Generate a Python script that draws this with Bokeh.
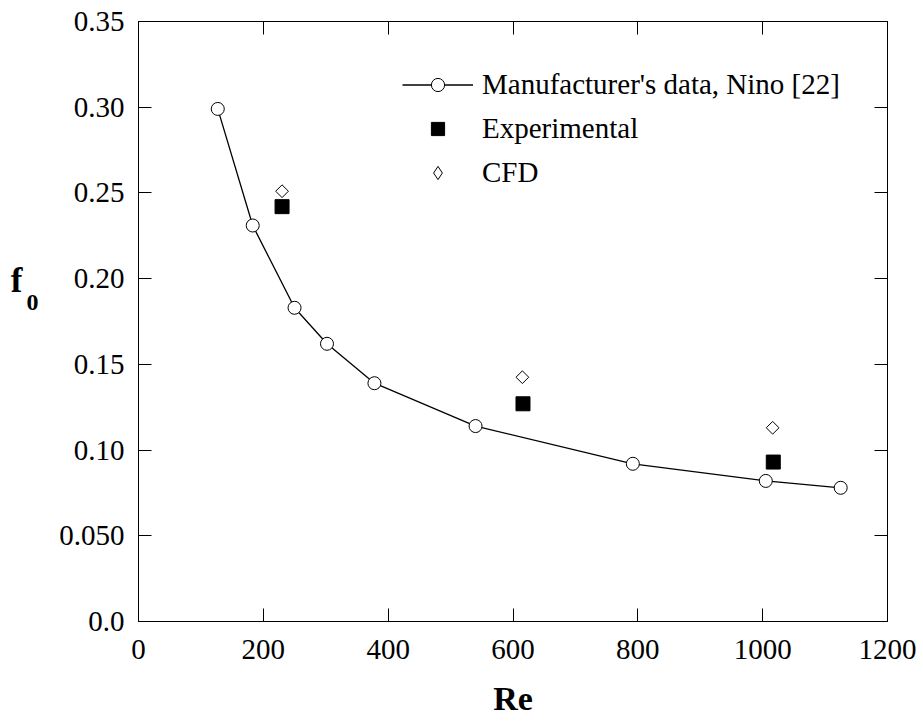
from bokeh.plotting import figure
from bokeh.models import (Range1d, LinearAxis, FixedTicker, Legend, LegendItem)
from bokeh.embed import file_html
from bokeh.resources import INLINE
import math

# ---- data ----
re_manuf = [127, 183, 250, 302, 378, 540, 792, 1005, 1125]
f_manuf = [0.299, 0.231, 0.183, 0.162, 0.139, 0.114, 0.092, 0.082, 0.078]

re_exp = [230, 616, 1017]
f_exp = [0.242, 0.127, 0.093]

re_cfd = [230, 615, 1016]
f_cfd = [0.251, 0.1425, 0.113]

x_ticks = [0, 200, 400, 600, 800, 1000, 1200]
y_ticks = [0, 0.05, 0.1, 0.15, 0.2, 0.25, 0.3, 0.35]
y_tick_labels = ["0.0", "0.050", "0.10", "0.15", "0.20", "0.25", "0.30", "0.35"]

FONT = "Liberation Serif"

p = figure(width=923, height=727, output_backend="svg", toolbar_location=None,
           x_range=Range1d(0, 1200), y_range=Range1d(0, 0.35),
           x_axis_location=None, y_axis_location=None,
           min_border_left=138, min_border_right=36,
           min_border_top=21, min_border_bottom=106)
p.xgrid.visible = False
p.ygrid.visible = False
p.outline_line_color = "black"
p.outline_line_width = 1
p.background_fill_color = "white"
p.border_fill_color = "white"


def style_axis(ax, show_labels):
    ax.axis_line_color = "black"
    ax.axis_line_width = 1
    ax.major_tick_in = 13
    ax.major_tick_out = 0
    ax.major_tick_line_color = "black"
    ax.major_tick_line_width = 1
    ax.minor_tick_in = 0
    ax.minor_tick_out = 0
    ax.major_label_text_font = FONT
    if show_labels:
        ax.major_label_text_color = "black"
        ax.major_label_text_font_size = "29px"
    else:
        ax.major_label_text_color = None
        ax.major_label_text_font_size = "1px"
        ax.major_label_standoff = 0


def label_axis(text, size, standoff, line_height):
    ax = LinearAxis(ticker=FixedTicker(ticks=[]))
    ax.axis_line_color = None
    ax.major_tick_line_color = None
    ax.minor_tick_line_color = None
    ax.major_tick_in = 0
    ax.major_tick_out = 0
    ax.minor_tick_in = 0
    ax.minor_tick_out = 0
    ax.major_label_text_color = None
    ax.major_label_text_font_size = "1px"
    ax.major_label_standoff = 0
    ax.axis_label = text
    ax.axis_label_orientation = "horizontal"
    ax.axis_label_text_font = FONT
    ax.axis_label_text_font_style = "bold"
    ax.axis_label_text_font_size = size
    ax.axis_label_text_color = "black"
    ax.axis_label_text_line_height = line_height
    ax.axis_label_standoff = standoff
    return ax


xb = LinearAxis(ticker=FixedTicker(ticks=x_ticks))
style_axis(xb, True)
xb.major_label_standoff = 18
xb.axis_label = "Re"
xb.axis_label_text_font = FONT
xb.axis_label_text_font_style = "bold"
xb.axis_label_text_font_size = "34px"
xb.axis_label_text_color = "black"
xb.axis_label_standoff = 18
p.add_layout(xb, "below")

yl = LinearAxis(ticker=FixedTicker(ticks=y_ticks))
style_axis(yl, True)
yl.major_label_standoff = 14
yl.major_label_overrides = {t: s for t, s in zip(y_ticks, y_tick_labels)}
p.add_layout(yl, "left")

# y axis title "f" with subscript "0", built from two label-only axes
# (a trailing blank line lifts each glyph above the axis centre)
p.add_layout(label_axis("0\n ", "24px", 18, 1.5), "left")
p.add_layout(label_axis("f\n ", "35px", 1, 2.1), "left")

xt = LinearAxis(ticker=FixedTicker(ticks=x_ticks))
style_axis(xt, False)
p.add_layout(xt, "above")

yr = LinearAxis(ticker=FixedTicker(ticks=y_ticks))
style_axis(yr, False)
p.add_layout(yr, "right")

# ---- glyphs ----
ln = p.line(re_manuf, f_manuf, line_color="black", line_width=1.3)
ci = p.scatter(re_manuf, f_manuf, marker="circle", size=13, fill_color="white",
               line_color="black", line_width=1)
sq = p.scatter(re_exp, f_exp, marker="square", size=14, fill_color="black",
               line_color="black", line_width=1)
di = p.scatter(re_cfd, f_cfd, marker="square", size=9, angle=math.pi / 4,
               fill_color="white", line_color="black", line_width=1)
# legend-only glyph for the CFD entry (legend glyphs ignore angle)
di_leg = p.scatter(re_cfd, f_cfd, marker="diamond", size=13, fill_color="white",
                   line_color="black", line_width=1, visible=False)

legend = Legend(items=[
    LegendItem(label="Manufacturer's data, Nino [22]", renderers=[ln, ci]),
    LegendItem(label="Experimental", renderers=[sq]),
    LegendItem(label="CFD", renderers=[di_leg]),
], location=(264, 432))
legend.label_text_font = FONT
legend.label_text_font_size = "29px"
legend.label_text_color = "black"
legend.glyph_width = 71
legend.glyph_height = 33
legend.label_height = 33
legend.spacing = 11
legend.label_standoff = 9
legend.padding = 0
legend.margin = 0
legend.border_line_color = None
legend.background_fill_alpha = 0
legend.inactive_fill_alpha = 0
legend.click_policy = "none"
p.add_layout(legend, "center")

open("out.html", "w").write(file_html(p, INLINE))
